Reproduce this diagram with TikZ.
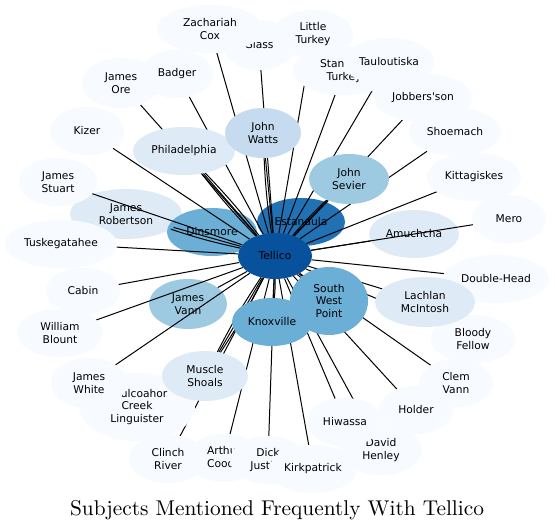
\documentclass[tikz,border=0pt]{standalone}
\usepackage{fontspec}
\newfontfamily\labfont{DejaVu Sans}
\usetikzlibrary{shapes.geometric}
\pgfdeclarelayer{bg}
\pgfdeclarelayer{fg}
\pgfsetlayers{bg,main,fg}
\definecolor{bA}{HTML}{F7FBFF}
\definecolor{bB}{HTML}{DEEBF7}
\definecolor{bC}{HTML}{C6DBEF}
\definecolor{bD}{HTML}{9ECAE1}
\definecolor{bE}{HTML}{6BAED6}
\definecolor{bG}{HTML}{2171B5}
\definecolor{bH}{HTML}{08519C}
\begin{document}
\begin{tikzpicture}[x=1pt,y=-1pt,
  nd/.style n args={3}{ellipse, draw=none, fill=#3, inner sep=0pt,
    minimum width=2*#1pt, minimum height=2*#2pt, align=center,
    font=\labfont\fontsize{10.7}{12.5}\selectfont, text=black},
  edge/.style={draw=black, line width=1pt},
  title/.style={anchor=base, inner sep=0pt}]
\begin{pgfonlayer}{bg}
  \fill[white] (0,0) rectangle (555,530);
  \node[nd={44}{24}{bG}] (estanaula) at (301,222) {Estanaula};
  \node[nd={56}{25}{bB}] (jrob) at (126,214) {James\\Robertson};
  \node[nd={45}{24}{bE}] (dins) at (212,232) {Dinsmore};
  \node[nd={37}{23}{bH}] (tellico) at (275,256) {Tellico};
  \node[nd={45}{24}{bB}] (amu) at (414,234) {Amuchcha};
  \node[nd={39}{25}{bD}] (jvann) at (188,304) {James\\Vann};
\end{pgfonlayer}
\begin{pgfonlayer}{fg}
  \node[nd={36}{25}{bA}] (glass) at (259,45) {Glass};
  \node[nd={53}{24}{bA}] (zcox) at (210,29) {Zachariah\\Cox};
  \node[nd={40}{24}{bA}] (lturkey) at (313,34) {Little\\Turkey};
  \node[nd={51}{24}{bA}] (sturkey) at (344,71) {Standing\\Turkey};
  \node[nd={45}{24}{bA}] (taul) at (389,62) {Tauloutiska};
  \node[nd={49}{24}{bA}] (jobb) at (423,98) {Jobbers'son};
  \node[nd={46}{24}{bA}] (shoe) at (455,132) {Shoemach};
  \node[nd={47}{24}{bA}] (kitt) at (474,177) {Kittagiskes};
  \node[nd={37}{24}{bA}] (mero) at (509,219) {Mero};
  \node[nd={53}{24}{bA}] (dhead) at (496,279) {Double-Head};
  \node[nd={42}{24}{bA}] (bfellow) at (473,339) {Bloody\\Fellow};
  \node[nd={50}{25}{bB}] (lachlan) at (425,302) {Lachlan\\McIntosh};
  \node[nd={37}{24}{bA}] (cvann) at (456,383) {Clem\\Vann};
  \node[nd={37}{24}{bA}] (holder) at (416,410) {Holder};
  \node[nd={41}{25}{bA}] (dhenley) at (381,450) {David\\Henley};
  \node[nd={38}{24}{bA}] (hiwassa) at (345,422) {Hiwassa};
  \node[nd={39}{24}{bA}] (clinch) at (168,459) {Clinch\\River};
  \node[nd={38}{24}{bA}] (acoody) at (224,458) {Arthur\\Coody};
  \node[nd={38}{24}{bA}] (djustice) at (268,460) {Dick\\Justice};
  \node[nd={44}{24}{bA}] (kirk) at (313,469) {Kirkpatrick};
  \node[nd={58}{34}{bA}] (ling) at (137,407) {Chulcoahor\\Creek\\Linguister};
  \node[nd={38}{25}{bA}] (jwhite) at (89,383) {James\\White};
  \node[nd={43}{25}{bB}] (mshoals) at (205,376) {Muscle\\Shoals};
  \node[nd={43}{24}{bA}] (wblount) at (60,333) {William\\Blount};
  \node[nd={37}{23}{bA}] (cabin) at (83,291) {Cabin};
  \node[nd={56}{24}{bA}] (tuske) at (61,244) {Tuskegatahee};
  \node[nd={39}{24}{bA}] (jstuart) at (58,182) {James\\Stuart};
  \node[nd={37}{24}{bA}] (kizer) at (87,131) {Kizer};
  \node[nd={39}{25}{bA}] (jore) at (121,83) {James\\Ore};
  \node[nd={36}{24}{bA}] (badger) at (177,74) {Badger};
  \node[nd={51}{24}{bB}] (phil) at (184,151) {Philadelphia};
  \node[nd={38}{25}{bC}] (jwatts) at (263,133) {John\\Watts};
  \node[nd={40}{25}{bD}] (jsevier) at (349,179) {John\\Sevier};
  \node[nd={40}{24}{bE}] (knox) at (272,322) {Knoxville};
  \node[nd={39}{34}{bE}] (swp) at (329,301) {South\\West\\Point};
\end{pgfonlayer}
% edges
\foreach \t in {zcox,glass,lturkey,sturkey,taul,jobb,shoe,kitt,mero,amu,dhead,
  lachlan,bfellow,cvann,holder,hiwassa,dhenley,kirk,djustice,acoody,clinch,
  mshoals,knox,swp,jwhite,wblount,cabin,jvann,tuske,jrob,jstuart,kizer,jore,
  badger,phil,jwatts,jsevier}
  \draw[edge] (tellico) -- (\t);
\foreach \t in {phil,mshoals}{
  \draw[edge] (tellico) to[bend left=3] (\t);
  \draw[edge] (tellico) to[bend right=3] (\t);}
\foreach \t in {jwatts,jsevier,jrob,knox,swp}
  \draw[edge] (tellico) to[bend left=3] (\t);
\node[title] (ttl) at (277,515) {\scalebox{2.135}{\fontsize{10}{12}\selectfont Subjects Mentioned Frequently With Tellico}};
\end{tikzpicture}
\end{document}
